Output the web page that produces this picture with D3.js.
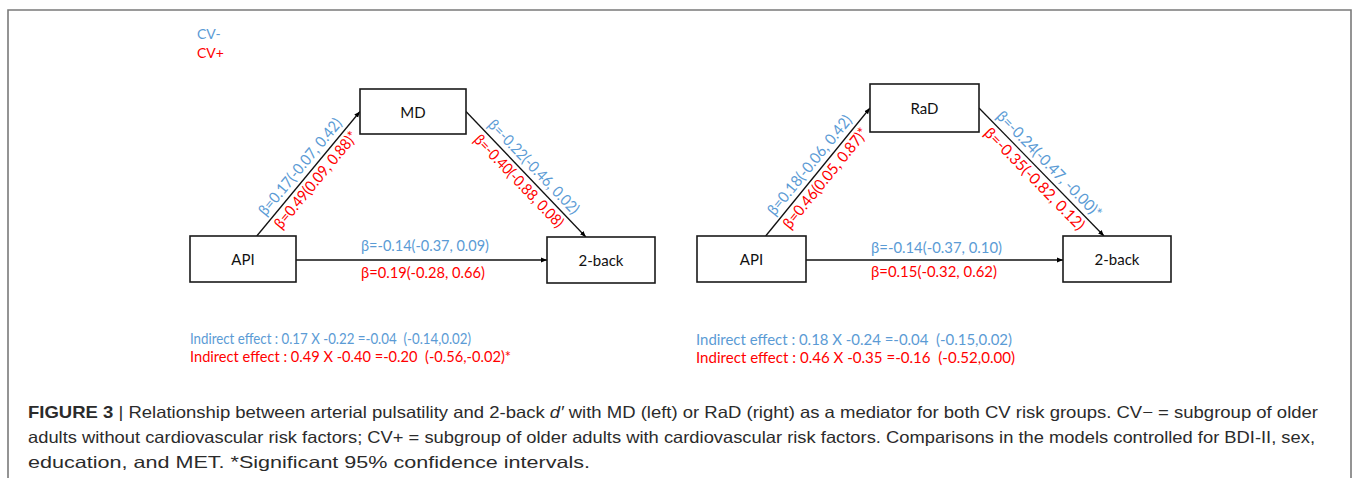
<!DOCTYPE html>
<html>
<head>
<meta charset="utf-8">
<script src="https://cdn.jsdelivr.net/npm/d3@7"></script>
<style>
  html, body { margin: 0; padding: 0; background: #fff; }
  svg { display: block; }
</style>
</head>
<body>
<svg id="chart" width="1356" height="478"></svg>
<script>
// ---------- data ----------
const groups = ["CV-", "CV+"];
const mediators = ["MD", "RaD"];
const predictor = "API";
const outcome = "2-back";
// path a: API -> mediator, per panel [CV-, CV+]
const pathA = [
  ["β=0.17(-0.07, 0.42)", "β=0.49(0.09, 0.88)*"],
  ["β=0.18(-0.06, 0.42)", "β=0.46(0.05, 0.87)*"]
];
// path b: mediator -> 2-back
const pathB = [
  ["β=-0.22(-0.46, 0.02)", "β=-0.40(-0.88, 0.08)"],
  ["β=-0.24(-0.47, -0.00)*", "β=-0.35(-0.82, 0.12)"]
];
// path c': API -> 2-back
const pathC = [
  ["β=-0.14(-0.37, 0.09)", "β=0.19(-0.28, 0.66)"],
  ["β=-0.14(-0.37, 0.10)", "β=0.15(-0.32, 0.62)"]
];
const indirect = [
  ["Indirect effect : 0.17 X -0.22 =-0.04  (-0.14,0.02)", "Indirect effect : 0.49 X -0.40 =-0.20  (-0.56,-0.02)*"],
  ["Indirect effect : 0.18 X -0.24 =-0.04  (-0.15,0.02)", "Indirect effect : 0.46 X -0.35 =-0.16  (-0.52,0.00)"]
];
const captionLines = [
  "Relationship between arterial pulsatility and 2-back d′ with MD (left) or RaD (right) as a mediator for both CV risk groups. CV− = subgroup of older",
  "adults without cardiovascular risk factors; CV+ = subgroup of older adults with cardiovascular risk factors. Comparisons in the models controlled for BDI-II, sex,",
  "education, and MET. *Significant 95% confidence intervals."
];

// ---------- layout ----------
const svg = d3.select("#chart");
const color = d3.scaleOrdinal().domain(groups).range(["#5b9bd5", "#ff0000"]);
const diagFont = "Lato, 'Open Sans', sans-serif";

const panels = [
  { api: {x:190, y:236, w:106, h:46}, med: {x:360, y:89, w:106, h:45}, out: {x:547, y:237, w:108, h:46},
    aFrac: 0.63, bFrac: 0.36, indX: 190, indY: [338, 356], indW: [281, 321], cW: [128, 124], cY: [245, 272],
    aLen: [121, 121], bLen: [124, 122] },
  { api: {x:697, y:236, w:109, h:46}, med: {x:870, y:84, w:109, h:48}, out: {x:1063, y:236, w:108, h:46},
    aFrac: 0.63, bFrac: 0.38, indX: 696, indY: [339, 357], indW: [316, 319], cW: [131, 126], cY: [247, 271],
    aLen: [124, 125], bLen: [143, 136] }
];

// frame
svg.append("path")
  .attr("d", "M8,490 L8,10 L1351,10 L1351,490")
  .attr("fill", "none").attr("stroke", "#7a7a7a").attr("stroke-width", 1.6);

// legend
svg.selectAll("text.legend").data(groups).join("text")
  .attr("class", "legend")
  .attr("x", 197)
  .attr("y", (d, i) => 33 + i * 19)
  .attr("dominant-baseline", "central")
  .attr("font-family", diagFont).attr("font-size", 14)
  .attr("fill", d => color(d))
  .text(d => d);

// arrow marker
svg.append("defs").append("marker")
  .attr("id", "arrow").attr("viewBox", "0 0 10 10")
  .attr("refX", 10).attr("refY", 5)
  .attr("markerWidth", 6).attr("markerHeight", 6)
  .attr("markerUnits", "userSpaceOnUse")
  .attr("orient", "auto")
  .append("path").attr("d", "M0,1 L10,5 L0,9 Z").attr("fill", "#000");

function drawBox(g, b, label) {
  g.append("rect").attr("x", b.x).attr("y", b.y).attr("width", b.w).attr("height", b.h)
    .attr("fill", "#fff").attr("stroke", "#1a1a1a").attr("stroke-width", 1.6);
  g.append("text").attr("x", b.x + b.w / 2).attr("y", b.y + b.h / 2)
    .attr("text-anchor", "middle").attr("dominant-baseline", "central")
    .attr("font-family", diagFont).attr("font-size", 15).attr("fill", "#111")
    .text(label);
}

function diagLabels(g, p0, p1, labels, lens) {
  const dx = p1[0] - p0[0], dy = p1[1] - p0[1];
  const len = Math.hypot(dx, dy);
  const ang = Math.atan2(dy, dx) * 180 / Math.PI;
  const ux = dx / len, uy = dy / len;
  const nx = uy, ny = -ux;
  const mx = (p0[0] + p1[0]) / 2, my = (p0[1] + p1[1]) / 2;
  const offs = [11.5, -9];
  labels.forEach((t, i) => {
    const cx = mx + nx * offs[i], cy = my + ny * offs[i];
    g.append("text")
      .attr("transform", `translate(${cx},${cy}) rotate(${ang})`)
      .attr("text-anchor", "middle").attr("dominant-baseline", "central")
      .attr("font-family", diagFont).attr("font-size", 15.5)
      .attr("fill", color(groups[i]))
      .attr("textLength", lens[i]).attr("lengthAdjust", "spacingAndGlyphs")
      .text(t);
  });
}

panels.forEach((P, k) => {
  const g = svg.append("g");
  const a0 = [P.api.x + P.aFrac * P.api.w, P.api.y];
  const a1 = [P.med.x, P.med.y + P.med.h / 2];
  const b0 = [P.med.x + P.med.w, P.med.y + P.med.h / 2];
  const b1 = [P.out.x + P.bFrac * P.out.w, P.out.y];
  const c0 = [P.api.x + P.api.w, P.api.y + P.api.h / 2 + 1];
  const c1 = [P.out.x, P.api.y + P.api.h / 2 + 1];
  [[a0, a1], [b0, b1], [c0, c1]].forEach(([s, e]) => {
    g.append("line").attr("x1", s[0]).attr("y1", s[1]).attr("x2", e[0]).attr("y2", e[1])
      .attr("stroke", "#111").attr("stroke-width", 1.3).attr("marker-end", "url(#arrow)");
  });
  drawBox(g, P.api, predictor);
  drawBox(g, P.med, mediators[k]);
  drawBox(g, P.out, outcome);

  diagLabels(g, a0, a1, pathA[k], P.aLen);
  diagLabels(g, b0, b1, pathB[k], P.bLen);

  pathC[k].forEach((t, i) => {
    g.append("text").attr("x", P.med.x + 1).attr("y", P.cY[i])
      .attr("dominant-baseline", "central")
      .attr("font-family", diagFont).attr("font-size", 15)
      .attr("fill", color(groups[i]))
      .attr("textLength", P.cW[i]).attr("lengthAdjust", "spacingAndGlyphs")
      .text(t);
  });

  indirect[k].forEach((t, i) => {
    g.append("text").attr("x", P.indX).attr("y", P.indY[i])
      .attr("dominant-baseline", "central")
      .attr("font-family", diagFont).attr("font-size", 14.5)
      .attr("fill", color(groups[i]))
      .attr("textLength", P.indW[i]).attr("lengthAdjust", "spacingAndGlyphs")
      .style("white-space", "pre")
      .text(t);
  });
});

// caption
const capFont = "'Liberation Sans', Arial, sans-serif";
const capY = [418, 443, 468];
const capW = [1290, 1287, 562];
captionLines.forEach((line, i) => {
  const t = svg.append("text").attr("x", 28).attr("y", capY[i])
    .attr("font-family", capFont).attr("font-size", 16.5).attr("fill", "#2b2b2b")
    .attr("textLength", capW[i]).attr("lengthAdjust", "spacingAndGlyphs");
  if (i === 0) {
    t.append("tspan").attr("font-weight", "bold").text("FIGURE 3");
    t.append("tspan").text("  |  ");
    const parts = line.split("d′");
    t.append("tspan").text(parts[0]);
    t.append("tspan").attr("font-style", "italic").text("d′");
    t.append("tspan").text(parts[1]);
  } else {
    t.text(line);
  }
});
</script>
</body>
</html>
